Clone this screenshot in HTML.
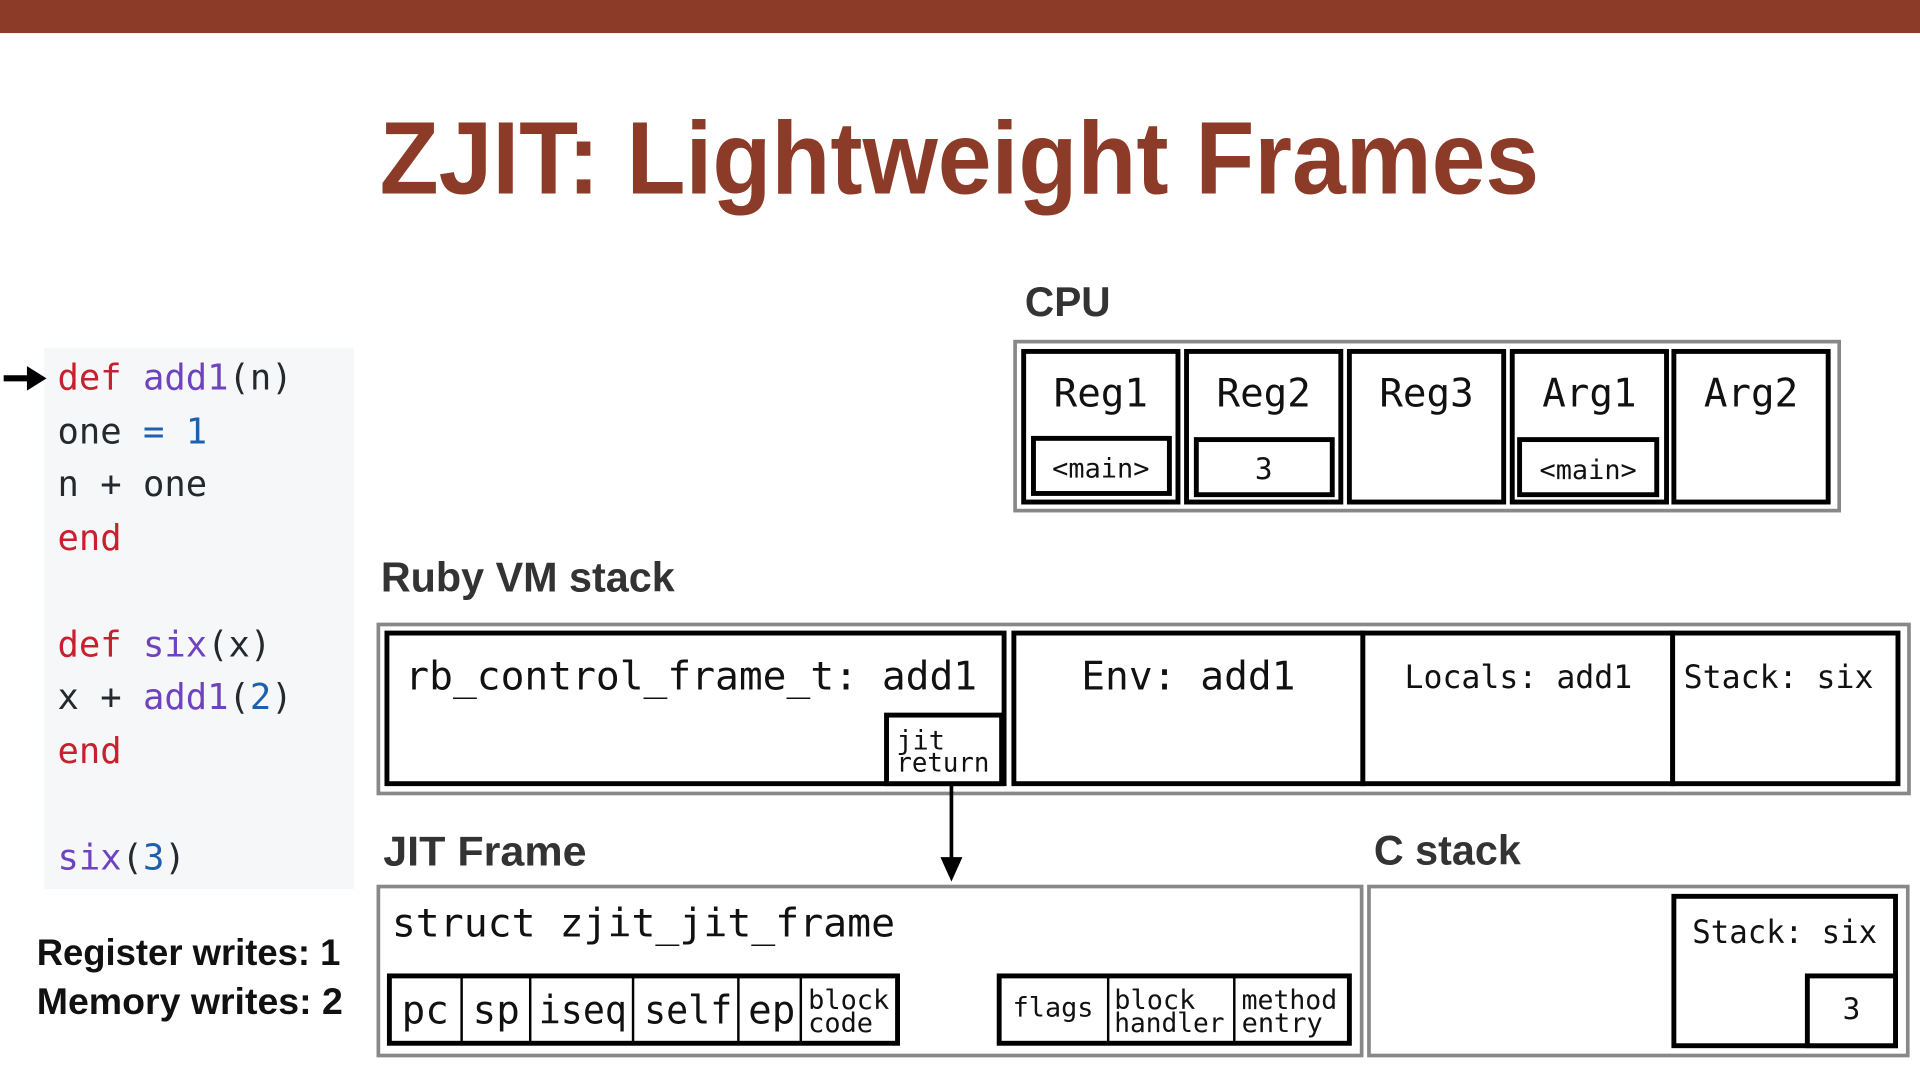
<!DOCTYPE html>
<html><head><meta charset="utf-8"><style>html,body{margin:0;padding:0;background:#fff}svg{display:block}</style></head>
<body>
<svg width="1920" height="1080" viewBox="0 0 1568 882" xmlns="http://www.w3.org/2000/svg">
<rect x="0" y="0" width="1568" height="27" fill="#8B3B27"/>
<text x="310" y="158" font-family="Liberation Sans, sans-serif" font-weight="bold" font-size="84" fill="#8B3B27" textLength="947" lengthAdjust="spacingAndGlyphs">ZJIT: Lightweight Frames</text>

<!-- code -->
<rect x="36" y="284" width="253" height="442" fill="#F6F7F9"/>
<line x1="3" y1="309" x2="24" y2="309" stroke="#000" stroke-width="5"/>
<polygon points="22,299 38,309 22,319" fill="#000"/>
<g font-family="DejaVu Sans Mono, monospace" font-size="29" fill="#24292e">
<text x="47" y="318"><tspan fill="#C8202E">def</tspan> <tspan fill="#6F42C1">add1</tspan>(n)</text>
<text x="47" y="362">  one <tspan fill="#1F5FB0">=</tspan> <tspan fill="#1F5FB0">1</tspan></text>
<text x="47" y="405">  n + one</text>
<text x="47" y="449" fill="#C8202E">end</text>
<text x="47" y="536"><tspan fill="#C8202E">def</tspan> <tspan fill="#6F42C1">six</tspan>(x)</text>
<text x="47" y="579">  x + <tspan fill="#6F42C1">add1</tspan>(<tspan fill="#1F5FB0">2</tspan>)</text>
<text x="47" y="623" fill="#C8202E">end</text>
<text x="47" y="710"><tspan fill="#6F42C1">six</tspan>(<tspan fill="#1F5FB0">3</tspan>)</text>
</g>
<g font-family="Liberation Sans, sans-serif" font-weight="bold" font-size="30" fill="#111">
<text x="30" y="788" textLength="248" lengthAdjust="spacingAndGlyphs">Register writes: 1</text>
<text x="30" y="828" textLength="250" lengthAdjust="spacingAndGlyphs">Memory writes: 2</text>
</g>

<!-- headings -->
<g font-family="Liberation Sans, sans-serif" font-weight="bold" font-size="34" fill="#333">
<text x="837" y="258" textLength="70" lengthAdjust="spacingAndGlyphs">CPU</text>
<text x="311" y="483" textLength="240" lengthAdjust="spacingAndGlyphs">Ruby VM stack</text>
<text x="313" y="707" textLength="166" lengthAdjust="spacingAndGlyphs">JIT Frame</text>
<text x="1122" y="706" textLength="120" lengthAdjust="spacingAndGlyphs">C stack</text>
</g>

<g fill="none" stroke="#888" stroke-width="3">
<rect x="829" y="279" width="673" height="138"/>
<rect x="309" y="510" width="1250" height="138"/>
<rect x="309" y="724" width="803" height="138"/>
<rect x="1118" y="724" width="440" height="138"/>
</g>

<g fill="#fff" stroke="#000" stroke-width="4">
<rect x="836" y="287" width="126" height="123"/>
<rect x="969" y="287" width="126" height="123"/>
<rect x="1102" y="287" width="126" height="123"/>
<rect x="1235" y="287" width="126" height="123"/>
<rect x="1367" y="287" width="126" height="123"/>
<rect x="844" y="358" width="111" height="45"/>
<rect x="977" y="359" width="111" height="45"/>
<rect x="1241" y="359" width="112" height="45"/>
<rect x="316" y="517" width="504" height="123"/>
<rect x="828" y="517" width="285" height="123"/>
<rect x="1113" y="517" width="253" height="123"/>
<rect x="1366" y="517" width="184" height="123"/>
<rect x="724" y="584" width="94" height="56"/>
<rect x="318" y="797" width="415" height="55"/>
<rect x="816" y="797" width="286" height="55"/>
<rect x="1367" y="732" width="181" height="122"/>
<rect x="1476" y="797" width="72" height="57"/>
</g>
<g stroke="#000" stroke-width="2">
<line x1="377" y1="797" x2="377" y2="852"/>
<line x1="433" y1="797" x2="433" y2="852"/>
<line x1="517" y1="797" x2="517" y2="852"/>
<line x1="603" y1="797" x2="603" y2="852"/>
<line x1="654" y1="797" x2="654" y2="852"/>
<line x1="905" y1="797" x2="905" y2="852"/>
<line x1="1008" y1="797" x2="1008" y2="852"/>
</g>
<line x1="777" y1="640" x2="777" y2="702" stroke="#000" stroke-width="3"/>
<polygon points="768,700 786,700 777,720" fill="#000"/>

<g font-family="DejaVu Sans Mono, monospace" fill="#111">
<g font-size="32" text-anchor="middle">
<text x="899" y="332">Reg1</text>
<text x="1032" y="332">Reg2</text>
<text x="1165" y="332">Reg3</text>
<text x="1298" y="332">Arg1</text>
<text x="1430" y="332">Arg2</text>
</g>
<g font-size="22" text-anchor="middle">
<text x="899" y="390">&lt;main&gt;</text>
<text x="1032" y="391" font-size="24">3</text>
<text x="1297" y="391">&lt;main&gt;</text>
</g>
<text x="331" y="563" font-size="32" textLength="467" lengthAdjust="spacingAndGlyphs">rb_control_frame_t: add1</text>
<text x="883" y="563" font-size="32" textLength="175" lengthAdjust="spacingAndGlyphs">Env: add1</text>
<text x="1147" y="562" font-size="26" textLength="186" lengthAdjust="spacingAndGlyphs">Locals: add1</text>
<text x="1375" y="562" font-size="26" textLength="155" lengthAdjust="spacingAndGlyphs">Stack: six</text>
<text x="732" y="612" font-size="22">jit</text>
<text x="732" y="630" font-size="22" textLength="76" lengthAdjust="spacingAndGlyphs">return</text>
<text x="320" y="765" font-size="32" textLength="411" lengthAdjust="spacingAndGlyphs">struct zjit_jit_frame</text>
<g font-size="32">
<text x="328" y="836">pc</text>
<text x="386" y="836">sp</text>
<text x="440" y="836" textLength="72" lengthAdjust="spacingAndGlyphs">iseq</text>
<text x="526" y="836" textLength="72" lengthAdjust="spacingAndGlyphs">self</text>
<text x="611" y="836">ep</text>
</g>
<g font-size="22">
<text x="660" y="824">block</text>
<text x="660" y="843">code</text>
<text x="827" y="830" textLength="66" lengthAdjust="spacingAndGlyphs">flags</text>
<text x="910" y="824">block</text>
<text x="910" y="843" textLength="90" lengthAdjust="spacingAndGlyphs">handler</text>
<text x="1014" y="824" textLength="78" lengthAdjust="spacingAndGlyphs">method</text>
<text x="1014" y="843">entry</text>
</g>
<text x="1382" y="770" font-size="26" textLength="151" lengthAdjust="spacingAndGlyphs">Stack: six</text>
<text x="1512" y="832" font-size="24" text-anchor="middle">3</text>
</g>
</svg>
</body></html>
